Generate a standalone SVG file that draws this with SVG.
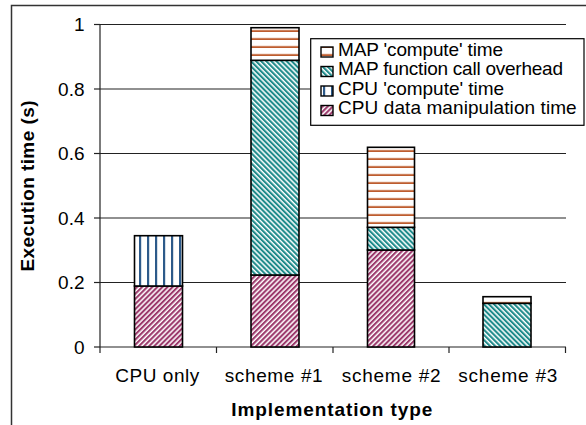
<svg xmlns="http://www.w3.org/2000/svg" width="586" height="425" viewBox="0 0 586 425">
<style>
text{font-family:"Liberation Sans",Arial,sans-serif;fill:#000}
.t{font-size:19px}
.b{font-size:19px;font-weight:bold}
.grid{stroke:#222;stroke-width:1.2;fill:none}
.bar{stroke:#000;stroke-width:1.6}
.sw{stroke:#000;stroke-width:1.4}
</style>
<defs>
<pattern id="pMapC" patternUnits="userSpaceOnUse" width="8" height="8">
<rect width="8" height="8" fill="#fff"/>
<rect y="5.5" width="8" height="4" fill="#f0d4c6"/>
<rect y="6.3" width="8" height="2.2" fill="#bd5c2e"/>
</pattern>
<pattern id="pMapO" patternUnits="userSpaceOnUse" width="3.6" height="10" patternTransform="rotate(-45)">
<rect width="3.6" height="10" fill="#fff"/>
<rect width="2.1" height="10" fill="#1f8b8b"/>
</pattern>
<pattern id="pCpuC" patternUnits="userSpaceOnUse" width="8" height="8">
<rect width="8" height="8" fill="#fff"/>
<rect x="3" width="2.2" height="8" fill="#2d5a8a"/>
</pattern>
<pattern id="pCpuD" patternUnits="userSpaceOnUse" width="3.6" height="10" patternTransform="rotate(45)">
<rect width="3.6" height="10" fill="#fff"/>
<rect width="2.1" height="10" fill="#9c3a6c"/>
</pattern>
</defs>
<rect x="0" y="0" width="586" height="425" fill="#fff"/>
<rect x="11.5" y="5.5" width="620" height="450" fill="#fff" stroke="#333" stroke-width="1.5"/>

<g id="axes">
<line class="grid" x1="100" y1="24.5" x2="566" y2="24.5"/>
<line class="grid" x1="100" y1="89" x2="566" y2="89"/>
<line class="grid" x1="100" y1="153.5" x2="566" y2="153.5"/>
<line class="grid" x1="100" y1="218" x2="566" y2="218"/>
<line class="grid" x1="100" y1="282.5" x2="566" y2="282.5"/>
<line class="grid" x1="100" y1="24" x2="100" y2="347"/>
<line class="grid" x1="100" y1="347" x2="566" y2="347"/>
<g class="grid">
<line x1="94" y1="24.5" x2="100" y2="24.5"/>
<line x1="94" y1="89" x2="100" y2="89"/>
<line x1="94" y1="153.5" x2="100" y2="153.5"/>
<line x1="94" y1="218" x2="100" y2="218"/>
<line x1="94" y1="282.5" x2="100" y2="282.5"/>
<line x1="94" y1="347" x2="100" y2="347"/>
<line x1="100" y1="347" x2="100" y2="353"/>
<line x1="216.5" y1="347" x2="216.5" y2="353"/>
<line x1="333" y1="347" x2="333" y2="353"/>
<line x1="449" y1="347" x2="449" y2="353"/>
<line x1="565.5" y1="347" x2="565.5" y2="353"/>
</g>
<g class="t" text-anchor="end">
<text x="84.5" y="31">1</text>
<text x="84.5" y="95.5">0.8</text>
<text x="84.5" y="160">0.6</text>
<text x="84.5" y="224.5">0.4</text>
<text x="84.5" y="289">0.2</text>
<text x="84.5" y="353.5">0</text>
</g>
<g class="t" text-anchor="middle">
<text x="157.3" y="381.7" textLength="84" lengthAdjust="spacing">CPU only</text>
<text x="273.7" y="381.7" textLength="98" lengthAdjust="spacing">scheme #1</text>
<text x="391.2" y="381.7" textLength="99" lengthAdjust="spacing">scheme #2</text>
<text x="507.8" y="381.7" textLength="99" lengthAdjust="spacing">scheme #3</text>
</g>
<text class="b" x="331.8" y="416" text-anchor="middle" textLength="201" lengthAdjust="spacing">Implementation type</text>
<text class="b" x="0" y="0" text-anchor="middle" textLength="171" lengthAdjust="spacing" transform="translate(33.5,186) rotate(-90)">Execution time (s)</text>
</g>

<g id="bar-cpu-only">
<rect class="bar" x="134.5" y="286" width="48" height="61" fill="url(#pCpuD)"/>
<rect class="bar" x="134.5" y="235.7" width="48" height="50.3" fill="url(#pCpuC)"/>
</g>
<g id="bar-scheme1">
<rect class="bar" x="251" y="275" width="48" height="72" fill="url(#pCpuD)"/>
<rect class="bar" x="251" y="60.3" width="48" height="214.7" fill="url(#pMapO)"/>
<rect class="bar" x="251" y="27.7" width="48" height="32.6" fill="url(#pMapC)"/>
</g>
<g id="bar-scheme2">
<rect class="bar" x="367.5" y="250" width="47" height="97" fill="url(#pCpuD)"/>
<rect class="bar" x="367.5" y="227.3" width="47" height="22.7" fill="url(#pMapO)"/>
<rect class="bar" x="367.5" y="147.3" width="47" height="80" fill="url(#pMapC)"/>
</g>
<g id="bar-scheme3">
<rect class="bar" x="483" y="303.3" width="48" height="43.7" fill="url(#pMapO)"/>
<rect class="bar" x="483" y="296.7" width="48" height="6.6" fill="url(#pMapC)"/>
</g>

<g id="legend">
<rect x="310.7" y="38.7" width="273.3" height="86.6" fill="#fff" stroke="#000" stroke-width="1.2"/>
<rect class="sw" x="321" y="47" width="12" height="10" fill="url(#pMapC)"/>
<rect class="sw" x="321" y="66.5" width="12" height="10" fill="url(#pMapO)"/>
<rect class="sw" x="321" y="86" width="12" height="10" fill="url(#pCpuC)"/>
<rect class="sw" x="321" y="105.5" width="12" height="10" fill="url(#pCpuD)"/>
<g class="t">
<text x="338" y="55.7" textLength="165" lengthAdjust="spacing">MAP 'compute' time</text>
<text x="338" y="75.2" textLength="225" lengthAdjust="spacing">MAP function call overhead</text>
<text x="338" y="94.7" textLength="166" lengthAdjust="spacing">CPU 'compute' time</text>
<text x="338" y="114.2" textLength="238.7" lengthAdjust="spacing">CPU data manipulation time</text>
</g>
</g>
</svg>
